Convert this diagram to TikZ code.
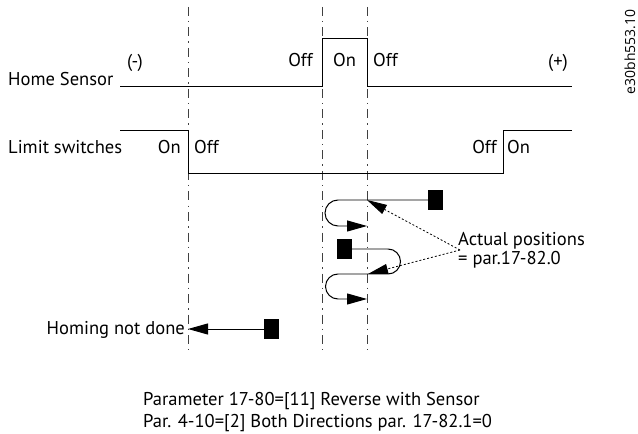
\documentclass[tikz,border=0pt]{standalone}
\usepackage{fontspec}
\setmainfont{PT Sans}
\newfontfamily\codefont{Open Sans}
\usetikzlibrary{arrows.meta}

\begin{document}
\begin{tikzpicture}[
  x=1bp,
  y=-1bp,
  signal/.style={
    line width=1pt
  },
  guide/.style={
    draw=black!75,
    line width=0.8pt,
    dash pattern=on 9bp off 5bp on 1.5bp off 5bp
  },
  block/.style={
    rectangle,
    fill=black,
    minimum width=15bp,
    minimum height=20bp,
    inner sep=0pt
  },
  move/.style={
    -{Triangle[length=20bp,width=11bp]},
    line width=1pt
  },
  pointer/.style={
    -{Triangle[length=20bp,width=10bp]},
    line width=0.8pt,
    dash pattern=on 2bp off 2bp
  },
  label/.style={
    inner sep=0pt,
    font=\fontsize{18.6}{22}\selectfont
  }
]

\path[use as bounding box] (0,0) rectangle (638,434);

% guide lines
\coordinate (g1t) at (188,7);
\coordinate (g1b) at (188,350);
\coordinate (g2t) at (322,7);
\coordinate (g2b) at (322,350);
\coordinate (g3t) at (367,7);
\coordinate (g3b) at (367,350);
\draw[guide] (g1t) -- (g1b);
\draw[guide] (g2t) -- (g2b);
\draw[guide] (g3t) -- (g3b);

% signals
\draw[signal] (120,87) -- (322,87) -- (322,39) -- (367,39) -- (367,87) -- (572,87);
\draw[signal] (120,131) -- (188,131) -- (188,174) -- (503,174) -- (503,131) -- (572,131);

\node[label, anchor=base west] (home)  at (8,86)    {Home Sensor};
\node[label, anchor=base west] (limit) at (8,154)   {Limit switches};
\node[label, anchor=base west] (minus) at (127,68)  {(-)};
\node[label, anchor=base east] (hoff1) at (313,67)  {Off};
\node[label, anchor=base]      (hon)   at (344.5,67) {On};
\node[label, anchor=base west] (hoff2) at (373,67)  {Off};
\node[label, anchor=base east] (plus)  at (568,68)  {(+)};
\node[label, anchor=base east] (lon1)  at (181,154) {On};
\node[label, anchor=base west] (loff1) at (194,154) {Off};
\node[label, anchor=base east] (loff2) at (497,154) {Off};
\node[label, anchor=base west] (lon2)  at (507,154) {On};

\node[rotate=90, anchor=base, inner sep=0pt, font=\codefont\fontsize{14}{16}\selectfont]
  (code) at (635,52) {e30bh553.10};

% moves
\node[block] (b1) at (435.5,200) {};
\node[block] (b2) at (344,249) {};
\node[block] (b3) at (271.5,329) {};

\coordinate (p1) at (367,200);
\coordinate (p2) at (368,274);
\coordinate (meet) at (460,250);

\draw[move] (b1.west) -- (338,200) arc[start angle=90, end angle=270, radius=13bp] -- (367,226);
\draw[move] (b2.east) -- (388,249) arc[start angle=90, end angle=-90, radius=12.5bp]
  -- (338,274) arc[start angle=90, end angle=270, radius=12.5bp] -- (367,299);
\draw[move] (b3.west) -- (b3.west -| g1t);

\draw[pointer] (meet) -- (p1);
\draw[pointer] (meet) -- (p2);

\node[label, anchor=base east] (notdone) at (185,334) {Homing not done};
\node[label, anchor=base west] (actual)  at (458,246) {Actual positions};
\node[label, anchor=base west] (actval)  at (458,265) {= par.17-82.0};

\node[label, anchor=base west] (cap1) at (143,405) {Parameter 17-80=[11] Reverse with Sensor};
\node[label, anchor=base west] (cap2) at (143,427) {Par. 4-10=[2] Both Directions par. 17-82.1=0};

\end{tikzpicture}
\end{document}
